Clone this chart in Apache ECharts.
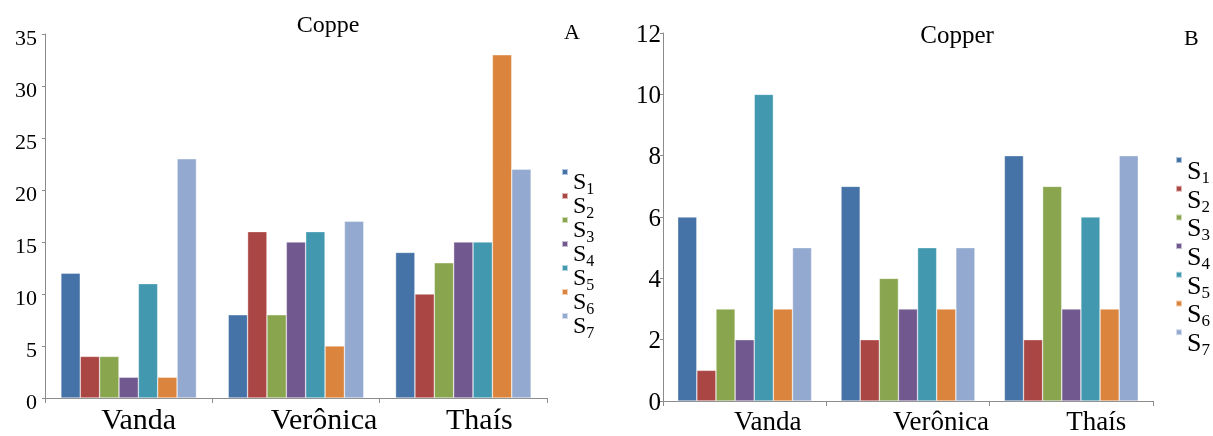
<!DOCTYPE html>
<html>
<head>
<meta charset="utf-8">
<script src="https://cdn.jsdelivr.net/npm/echarts@6/dist/echarts.min.js"></script>
<style>
html,body{margin:0;padding:0;background:#fff;}
#c{width:1213px;height:436px;}
</style>
</head>
<body>
<div id="c"></div>
<script>
const categories = ['Vanda', 'Verônica', 'Thaís'];
const seriesNames = ['S1', 'S2', 'S3', 'S4', 'S5', 'S6', 'S7'];
const colors = ['#4572A7', '#AA4643', '#89A54E', '#71588F', '#4198AF', '#DB843D', '#93A9CF'];

// Panel A (Coppe): values per series across Vanda, Verônica, Thaís
const valuesA = [
  [12, 8, 14],
  [4, 16, 10],
  [4, 8, 13],
  [2, 15, 15],
  [11, 16, 15],
  [2, 5, 33],
  [23, 17, 22]
];
// Panel B (Copper)
const valuesB = [
  [6, 7, 8],
  [1, 2, 2],
  [3, 4, 7],
  [2, 3, 3],
  [10, 5, 6],
  [3, 3, 3],
  [5, 5, 8]
];
const titleA = 'Coppe';
const titleB = 'Copper';
const panelLabelA = 'A';
const panelLabelB = 'B';

const serif = 'Liberation Serif';
const chart = echarts.init(document.getElementById('c'));

function xAxis(gridIndex, fontSize, offsets) {
  const rich = {};
  offsets.forEach((o, i) => {
    rich['c' + i] = { fontFamily: serif, fontSize: fontSize, color: '#000', padding: [0, 0, 0, 2 * o] };
  });
  return {
    type: 'category', gridIndex: gridIndex, data: categories,
    axisLine: { lineStyle: { color: '#8c8c8c', width: 1 } },
    axisTick: { show: true, length: 5, lineStyle: { color: '#8c8c8c' } },
    axisLabel: {
      margin: 8,
      fontFamily: serif,
      formatter: (v, i) => '{c' + i + '|' + v + '}',
      rich: rich
    }
  };
}
function yAxis(gridIndex, max, interval, fontSize, margin, shift) {
  return {
    type: 'value', gridIndex: gridIndex, min: 0, max: max, interval: interval,
    axisLine: { show: true, lineStyle: { color: '#8c8c8c', width: 1 } },
    axisTick: { show: true, length: 3, lineStyle: { color: '#8c8c8c' } },
    splitLine: { show: false },
    axisLabel: {
      margin: margin, fontFamily: serif, fontSize: fontSize, color: '#000',
      formatter: v => '{t|' + v + '}',
      rich: { t: { fontFamily: serif, fontSize: fontSize, color: '#000', padding: [2 * shift, 0, 0, 0] } }
    }
  };
}
function legend(left, top, sFont, subFont, pitch) {
  const H = 48;
  return {
    orient: 'vertical', left: left, top: top, padding: 0,
    data: seriesNames,
    icon: 'rect', itemWidth: 6, itemHeight: 6, itemGap: pitch - H,
    selectedMode: false,
    formatter: name => '{s|S}{n|' + name.slice(1) + '}',
    textStyle: {
      fontFamily: serif,
      rich: {
        s: { fontFamily: serif, fontSize: sFont, color: '#000', lineHeight: 18, verticalAlign: 'top', padding: [8, 0, 22, 0] },
        n: { fontFamily: serif, fontSize: subFont, color: '#000', lineHeight: 16, verticalAlign: 'top', padding: [19, 0, 13, 0] }
      }
    }
  };
}

const series = [];
seriesNames.forEach((n, i) => {
  series.push({
    name: n, type: 'bar', xAxisIndex: 0, yAxisIndex: 0, data: valuesA[i],
    barGap: '0%', barCategoryGap: '19%',
    itemStyle: { color: colors[i], borderColor: 'rgba(255,255,255,0.6)', borderWidth: 0.6 }
  });
});
seriesNames.forEach((n, i) => {
  series.push({
    name: n, type: 'bar', xAxisIndex: 1, yAxisIndex: 1, data: valuesB[i],
    barGap: '0%', barCategoryGap: '18%',
    itemStyle: { color: colors[i], borderColor: 'rgba(255,255,255,0.6)', borderWidth: 0.6 }
  });
});

function titleStyle(size) {
  return { fontFamily: serif, fontSize: size, fontWeight: 'normal', color: '#000' };
}

chart.setOption({
  animation: false,
  backgroundColor: '#fff',
  color: colors,
  textStyle: { fontFamily: serif },
  title: [
    { text: titleA, left: 328, top: 14, padding: 0, textAlign: 'center', textStyle: titleStyle(24) },
    { text: titleB, left: 957, top: 24, padding: 0, textAlign: 'center', textStyle: titleStyle(25) },
    { text: panelLabelA, left: 564, top: 22, padding: 0, textStyle: titleStyle(22) },
    { text: panelLabelB, left: 1184, top: 28, padding: 0, textStyle: titleStyle(22) }
  ],
  grid: [
    { left: 45, top: 34, width: 502, height: 368 },
    { left: 663, top: 33, width: 490, height: 369 }
  ],
  xAxis: [xAxis(0, 30, [10, 28, 16]), xAxis(1, 27, [23, 33, 25])],
  yAxis: [yAxis(0, 35, 5, 22, 8, 5), yAxis(1, 12, 2, 25, 2, 2)],
  legend: [legend(561, 163, 24, 16, 18), legend(1175, 151, 26, 17, 20.7)],
  series: series
});
</script>
</body>
</html>
